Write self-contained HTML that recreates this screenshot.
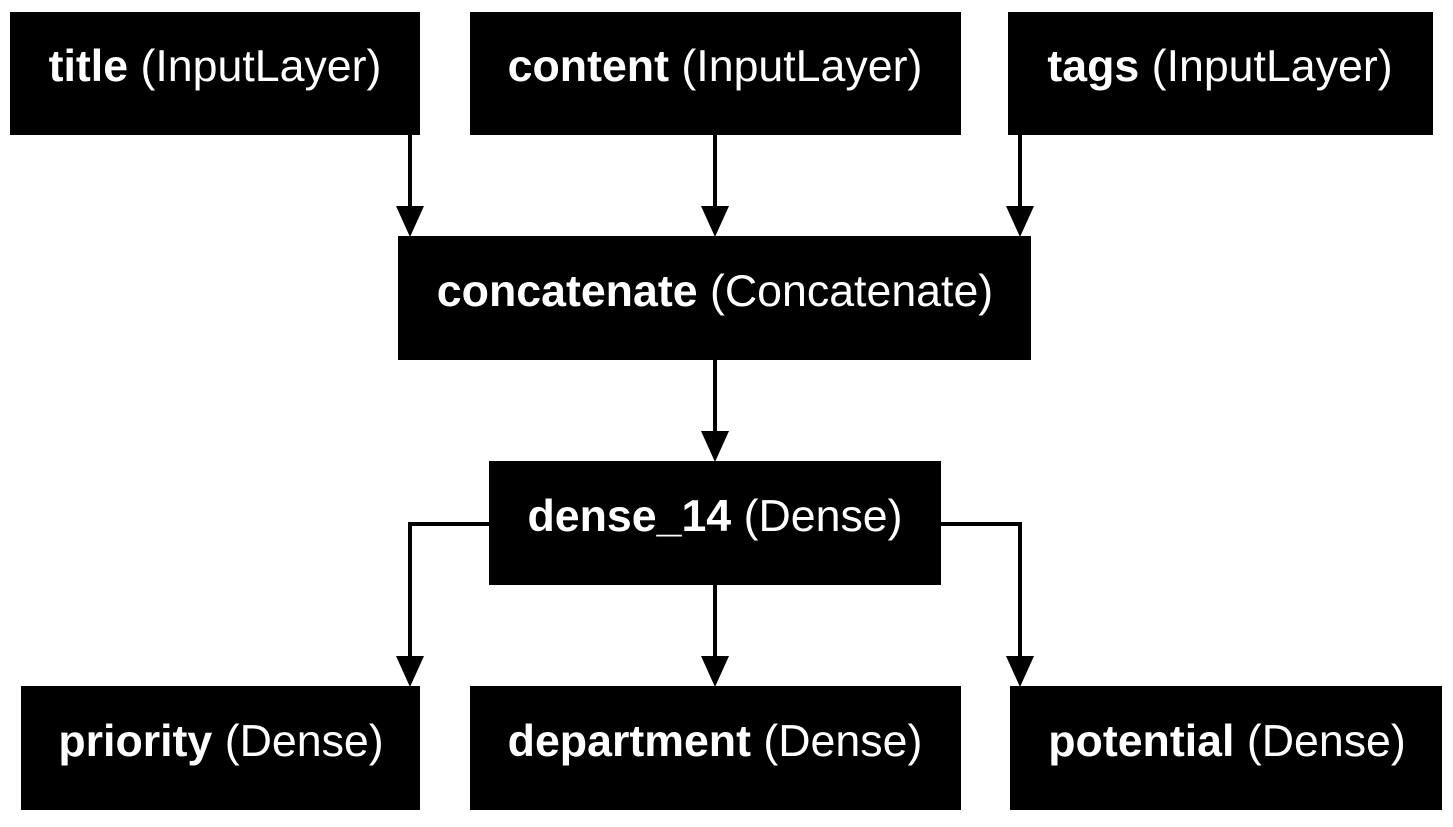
<!DOCTYPE html>
<html><head><style>html,body{margin:0;padding:0;background:#fff}</style></head>
<body>
<svg width="1453" height="822" xmlns="http://www.w3.org/2000/svg" font-family="Liberation Sans, Arial, sans-serif" font-size="44.7">
<g fill="#000">
<rect x="10" y="12" width="410" height="123"/>
<rect x="470" y="12" width="491" height="123"/>
<rect x="1008" y="12" width="425" height="123"/>
<rect x="398" y="236" width="633" height="124"/>
<rect x="489" y="461" width="452" height="124"/>
<rect x="21" y="686" width="399" height="124"/>
<rect x="470" y="686" width="491" height="124"/>
<rect x="1010" y="686" width="432" height="124"/>
</g>
<g stroke="#000" stroke-width="4" fill="none">
<line x1="410" y1="135" x2="410" y2="210"/>
<line x1="715" y1="135" x2="715" y2="210"/>
<line x1="1020" y1="135" x2="1020" y2="210"/>
<line x1="715" y1="360" x2="715" y2="435"/>
<polyline points="489,524 410,524 410,660"/>
<line x1="715" y1="585" x2="715" y2="660"/>
<polyline points="941,524 1020,524 1020,660"/>
</g>
<g fill="#000">
<polygon points="396,206 424,206 410,237"/>
<polygon points="701,206 729,206 715,237"/>
<polygon points="1006,206 1034,206 1020,237"/>
<polygon points="701,431 729,431 715,462"/>
<polygon points="396,656 424,656 410,687"/>
<polygon points="701,656 729,656 715,687"/>
<polygon points="1006,656 1034,656 1020,687"/>
</g>
<g fill="#fff" text-anchor="middle">
<text x="215" y="81"><tspan font-weight="bold">title</tspan> (InputLayer)</text>
<text x="715" y="81"><tspan font-weight="bold">content</tspan> (InputLayer)</text>
<text x="1220" y="81"><tspan font-weight="bold">tags</tspan> (InputLayer)</text>
<text x="715" y="306"><tspan font-weight="bold">concatenate</tspan> (Concatenate)</text>
<text x="715" y="531"><tspan font-weight="bold">dense_14</tspan> (Dense)</text>
<text x="221" y="756"><tspan font-weight="bold">priority</tspan> (Dense)</text>
<text x="715" y="756"><tspan font-weight="bold">department</tspan> (Dense)</text>
<text x="1227" y="756"><tspan font-weight="bold">potential</tspan> (Dense)</text>
</g>
</svg>
</body></html>
